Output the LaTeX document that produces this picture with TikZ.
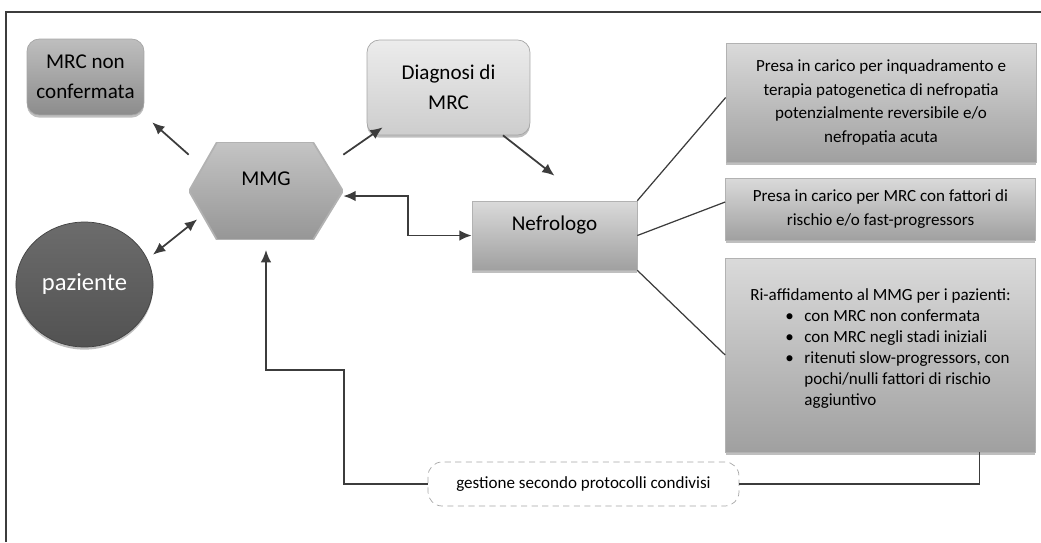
\documentclass[tikz,border=0pt]{standalone}
\usepackage{fontspec}
\setmainfont{Carlito}
\usetikzlibrary{arrows.meta,shapes.geometric,shadows}
\definecolor{boxTop}{RGB}{218,218,218}
\definecolor{boxBot}{RGB}{160,160,160}
\definecolor{hexTop}{RGB}{196,196,196}
\definecolor{hexBot}{RGB}{150,150,150}
\definecolor{lightTop}{RGB}{236,236,236}
\definecolor{lightBot}{RGB}{205,205,205}
\definecolor{midTop}{RGB}{190,190,190}
\definecolor{midBot}{RGB}{140,140,140}
\definecolor{pazFill}{RGB}{82,82,82}
\definecolor{lineGray}{RGB}{60,60,60}

\begin{document}
\begin{tikzpicture}[x=0.02cm, y=-0.02cm, >={Latex[length=7pt,width=6pt]},
      shadowed/.style={drop shadow={shadow xshift=0pt, shadow yshift=-1.5pt, opacity=0.5}},
      bubble/.style={rectangle, rounded corners=7pt, draw=gray!70, shadowed,
                     align=center, font=\fontsize{12}{17}\selectfont},
      infobox/.style={rectangle, draw=gray!60, shadowed, top color=boxTop, bottom color=boxBot,
                      minimum width=6.2cm, align=center, font=\fontsize{9.7}{13.6}\selectfont},
      hexbox/.style={rectangle, minimum width=3.08cm, minimum height=1.96cm, inner sep=0pt,
                     font=\fontsize{12}{14}\selectfont, text height=8pt, text depth=13.8pt,
                     path picture={
                       \shade[top color=hexTop, bottom color=hexBot, draw=gray!60, line width=1pt]
                         (path picture bounding box.west)
                         -- ([xshift=0.56cm]path picture bounding box.north west)
                         -- ([xshift=-0.6cm]path picture bounding box.north east)
                         -- (path picture bounding box.east)
                         -- ([xshift=-0.6cm]path picture bounding box.south east)
                         -- ([xshift=0.56cm]path picture bounding box.south west) -- cycle;}},
      link/.style={->, line width=1pt, lineGray},
      branch/.style={lineGray, line width=0.7pt}]
  \useasboundingbox (0,0) rectangle (1041,542);
  \draw[lineGray, line width=0.9pt] (6,542) -- (6,12) -- (1041,12);

  \node[bubble, top color=midTop, bottom color=midBot, minimum width=2.34cm, minimum height=1.52cm]
        (nonconf) at (85.5,77) {MRC non\\confermata};
  \node[bubble, top color=lightTop, bottom color=lightBot, minimum width=3.26cm, minimum height=1.9cm]
        (diag) at (448.5,87.5) {Diagnosi di\\MRC};
  \node[hexbox] (mmg) at (266,191) {MMG};
  \node[ellipse, shadowed, top color=pazFill!85, bottom color=pazFill, draw=pazFill!80!black,
        minimum width=2.7cm, minimum height=2.5cm, text=white, font=\fontsize{14}{16}\selectfont]
        (paz) at (84.5,284.5) {paziente};
  \node[rectangle, draw=gray!60, shadowed, top color=boxTop, bottom color=boxBot,
        minimum width=3.3cm, minimum height=1.38cm, font=\fontsize{12}{14}\selectfont,
        text height=8pt, text depth=13.2pt]
        (nefro) at (554.5,235.5) {Nefrologo};

  \node[infobox, minimum height=2.38cm] (box1) at (881,102.5)
        {Presa in carico per inquadramento e\\terapia patogenetica di nefropatia\\potenzialmente reversibile e/o\\nefropatia acuta};
  \node[infobox, minimum height=1.24cm] (box2) at (880.5,209)
        {Presa in carico per MRC con fattori di\\rischio e/o fast-progressors};
  \node[infobox, minimum height=3.88cm] (box3) at (880.5,355)
        {Ri-affidamento al MMG per i pazienti:\\[1pt]
         \hspace*{0.68cm}\renewcommand{\arraystretch}{0.88}\begin{tabular}{@{}l@{\hspace{6pt}}l@{}}
           \textbullet & con MRC non confermata\\
           \textbullet & con MRC negli stadi iniziali\\
           \textbullet & ritenuti slow-progressors, con\\
                       & pochi/nulli fattori di rischio\\
                       & aggiuntivo
         \end{tabular}\\[4pt]};

  \node[rectangle, rounded corners=8pt, draw=gray!70, dash pattern=on 3.5pt off 2.5pt, fill=white,
        minimum width=6.22cm, minimum height=0.88cm, font=\fontsize{9.7}{12}\selectfont]
        (proto) at (583.5,484) {gestione secondo protocolli condivisi};

  \draw[link, shorten >=6pt] ([yshift=-0.26cm]mmg.north west) -- (nonconf.south east);
  \draw[link] ([yshift=-0.26cm]mmg.north east) -- ([xshift=0.32cm,yshift=0.16cm]diag.south west);
  \draw[link] ([xshift=1.09cm]diag.south) -- ([yshift=0.5cm]nefro.north);
  \draw[link, <->, shorten <=4pt, shorten >=4pt] (paz.22) -- ([xshift=0.28cm,yshift=-0.48cm]mmg.west);
  \draw[link, <->] ([yshift=-0.1cm]mmg.east) -- ++(65,0) |- (nefro.west);
  \draw[link, shorten >=5.5pt] (proto.west) -| (344,370) -| (mmg.south);

  \draw[branch] (nefro.north east) -- ([yshift=0.1cm]box1.west);
  \draw[branch] (nefro.east) -- ([yshift=0.14cm]box2.west);
  \draw[branch] (nefro.south east) -- (box3.west);
  \draw[branch, line width=0.9pt] ([xshift=1.98cm]box3.south) |- (proto.east);
\end{tikzpicture}
\end{document}
